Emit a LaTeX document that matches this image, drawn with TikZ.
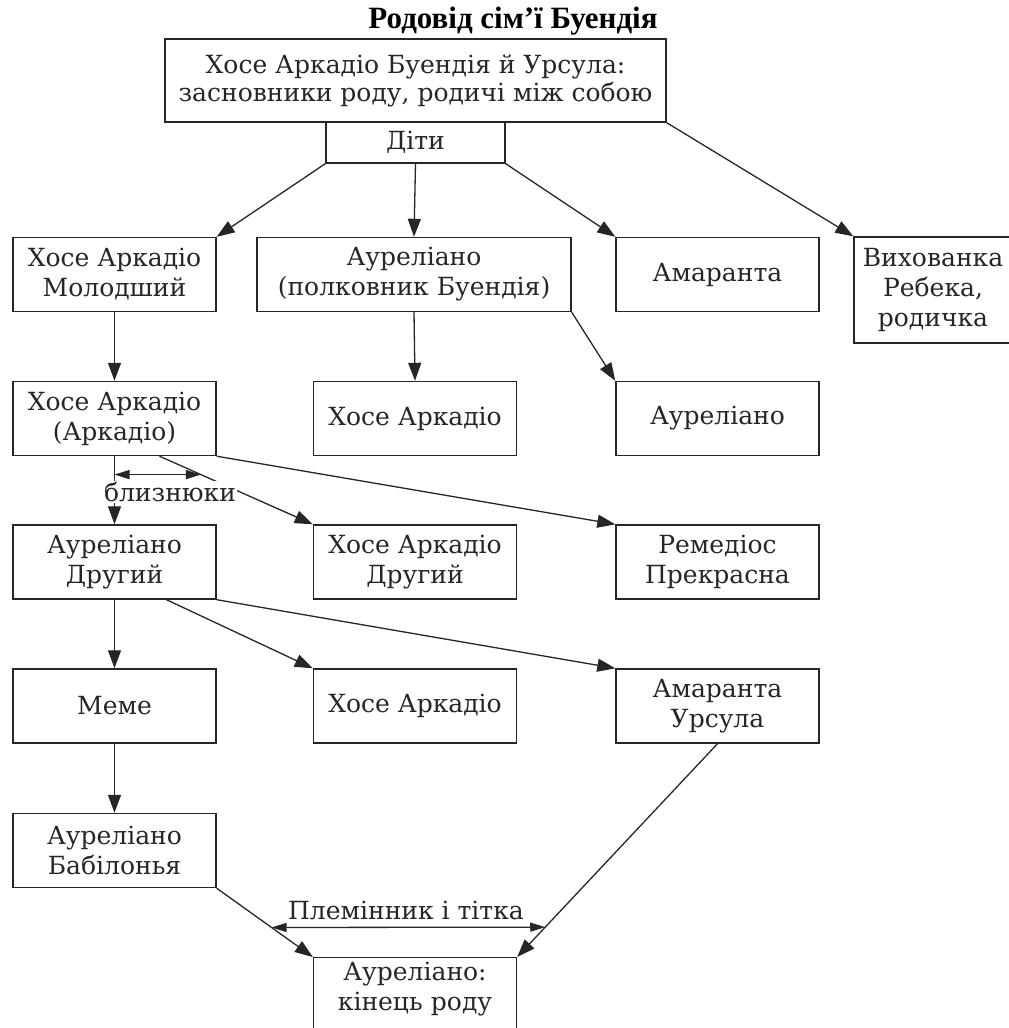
\documentclass[tikz,border=0pt]{standalone}
\usepackage{fontspec}
\setmainfont{DejaVu Serif}
\newfontfamily\headfont{Liberation Serif}
\usetikzlibrary{arrows.meta,calc}
\colorlet{ink}{black!85}

\begin{document}
	\begin{tikzpicture}[
			x=1pt, y=-1pt,
			box/.style={draw=ink, line width=1.4pt, text=ink, align=center, inner sep=4pt, minimum width=203pt, minimum height=74pt, font=\fontsize{25}{30}\selectfont},
			link/.style={draw=ink, line width=1.3pt, -{Triangle[length=18pt,width=13pt]}},
			twoway/.style={draw=ink, line width=1.3pt, {Triangle[length=15pt,width=9pt]}-{Triangle[length=15pt,width=9pt]}},
			note/.style={text=ink, fill=white, inner sep=1pt, font=\fontsize{25}{30}\selectfont}
		]
		\useasboundingbox (0,0) rectangle (1009,1028);
		\node[font=\headfont\bfseries\fontsize{31}{34}\selectfont] (title) at (513,21) {Родовід сім’ї Буендія};
		\node[box, minimum width=501pt, minimum height=83pt, font=\fontsize{25}{28}\selectfont] (founders) at (415.5,80.5) {Хосе Аркадіо Буендія й Урсула:\\засновники роду, родичі між собою};
		\node[box, minimum width=179pt, minimum height=41pt] (kids) at (415.5,142.5) {Діти};

		\node[box] (jam) at (114.5,274.5) {Хосе Аркадіо\\Молодший};
		\node[box, minimum width=314pt] (col) at (414,274.5) {Ауреліано\\(полковник Буендія)};
		\node[box] (ama) at (717.5,274.5) {Амаранта};
		\node[box, minimum width=158pt, minimum height=106pt] (reb) at (933,290) {Вихованка\\Ребека,\\родичка};

		\node[box] (arc) at (114.5,418.5) {Хосе Аркадіо\\(Аркадіо)};
		\node[box] (jac) at (415,418.5) {Хосе Аркадіо};
		\node[box] (aur) at (717.5,418.5) {Ауреліано};

		\node[box] (asg) at (114.5,562) {Ауреліано\\Другий};
		\node[box] (jas) at (415,562) {Хосе Аркадіо\\Другий};
		\node[box] (rem) at (717.5,562) {Ремедіос\\Прекрасна};

		\node[box] (meme) at (114.5,706) {Меме};
		\node[box] (jaa) at (415,706) {Хосе Аркадіо};
		\node[box] (amu) at (717.5,706) {Амаранта\\Урсула};

		\node[box] (bab) at (114.5,850.5) {Ауреліано\\Бабілонья};
		\node[box, anchor=north, text width=195pt, text depth=80pt] (last) at (415,957) {Ауреліано:\\кінець роду};

		\draw[link] (kids.south west) -- (jam.north east);
		\draw[link] (kids.south) -- (col.north);
		\draw[link] (kids.south east) -- (ama.north west);
		\draw[link] (founders.south east) -- (reb.north west);
		\draw[link] (jam.south) -- (arc.north);
		\draw[link] (col.south) -- (jac.north);
		\draw[link] (col.south east) -- (aur.north west);
		\draw[link] (arc.south) -- (asg.north);
		\draw[link] ([xshift=45pt]arc.south) -- (jas.north west);
		\draw[link] (arc.south east) -- (rem.north west);
		\draw[link] (asg.south) -- (meme.north);
		\draw[link] ([xshift=52pt]asg.south) -- (jaa.north west);
		\draw[link] (asg.south east) -- (amu.north west);
		\draw[link] (meme.south) -- (bab.north);
		\draw[link] (bab.south east) -- (last.north west);
		\draw[link] (amu.south) -- (last.north east);

		\coordinate (tw2) at ($([xshift=45pt]arc.south)!0.27!(jas.north west)$);
		\coordinate (tw1) at (arc.south |- tw2);
		\draw[twoway] (tw1) -- (tw2);
		\node[note] (twins) at (170,492) {близнюки};

		\coordinate (na1) at ($(bab.south east)!0.571!(last.north west)$);
		\coordinate (na2) at ($(amu.south)!0.86!(last.north east)$);
		\draw[twoway] (na1) -- (na2);
		\node[note] (kin) at (406,910) {Племінник і тітка};
	\end{tikzpicture}
\end{document}
